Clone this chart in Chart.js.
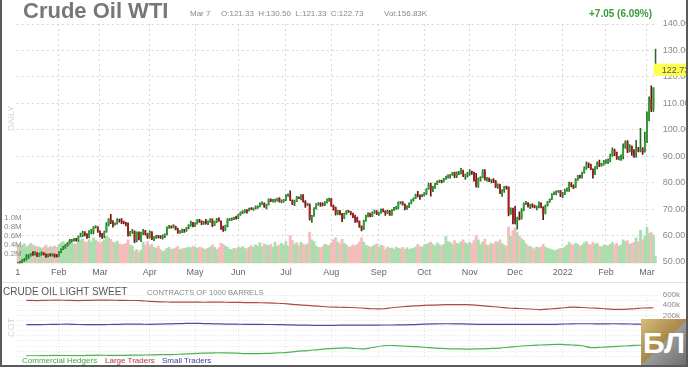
<!DOCTYPE html>
<html><head><meta charset="utf-8">
<script src="https://cdn.jsdelivr.net/npm/chart.js@4/dist/chart.umd.min.js"></script>
<style>
body{margin:0;width:688px;height:367px;overflow:hidden;background:#fff;font-family:Arial,"Liberation Sans",sans-serif;}
#wrap{position:relative;width:688px;height:367px;overflow:hidden;}
canvas{position:absolute;left:0;}
.t{position:absolute;white-space:nowrap;line-height:1;}
#frame{position:absolute;left:0;top:0;width:684px;height:365px;border:2px solid #5a5a5a;border-top:none;pointer-events:none;}
#sep{position:absolute;left:0;top:282px;width:688px;height:1px;background:#e2e2e2;}
#logo{position:absolute;left:641px;top:319px;width:46px;height:47px;background:linear-gradient(135deg,#d6bd7a 0%,#a8894a 48%,#9a9a9a 52%,#6c6c6c 100%);color:#fff;font:bold 30px Arial;text-align:center;line-height:47px;}
</style></head>
<body><div id="wrap">
<canvas id="main" width="688" height="282" style="top:0"></canvas>
<div id="sep"></div>
<canvas id="cot" width="688" height="84" style="top:283px"></canvas>
<div class="t" style="left:23px;top:0;font-size:22px;font-weight:bold;color:#777">Crude Oil WTI</div>
<div class="t" style="left:190px;top:10px;font-size:8px;color:#888">Mar 7</div>
<div class="t" style="left:221px;top:10px;font-size:8px;color:#888">O:121.33&nbsp; H:130.50&nbsp; L:121.33&nbsp; C:122.73</div>
<div class="t" style="left:384px;top:10px;font-size:8px;color:#888">Vol:156.83K</div>
<div class="t" style="left:589px;top:9px;font-size:10px;font-weight:bold;color:#3a9a3a">+7.05 (6.09%)</div>
<div class="t" style="left:7px;top:131px;font-size:9px;color:#d4d4d4;transform:rotate(-90deg);transform-origin:0 0">DAILY</div>
<div class="t" style="left:3px;top:287px;font-size:10px;color:#555">CRUDE OIL LIGHT SWEET</div>
<div class="t" style="left:147px;top:289px;font-size:7.6px;color:#888">CONTRACTS OF 1000 BARRELS</div>
<div class="t" style="left:7px;top:337px;font-size:9px;color:#d4d4d4;transform:rotate(-90deg);transform-origin:0 0">COT</div>
<div class="t" style="left:22px;top:357px;font-size:8px;color:#3aa83a">Commercial Hedgers</div>
<div class="t" style="left:105px;top:357px;font-size:8px;color:#a83a3a">Large Traders</div>
<div class="t" style="left:162px;top:357px;font-size:8px;color:#3a3a9a">Small Traders</div>
<div id="logo">БЛ</div>
<div id="frame"></div>
</div>
<script>
// ---- calendar (categories) ----
const holidays = ['2021-01-18','2021-02-15','2021-04-02','2021-05-31','2021-07-05','2021-09-06','2021-11-25','2021-12-24','2022-01-17','2022-02-21'];
function buildDates(a,b){const out=[];let d=new Date(a+'T00:00:00Z');const e=new Date(b+'T00:00:00Z');
  while(d<=e){const wd=d.getUTCDay();const s=d.toISOString().slice(0,10);if(wd!==0&&wd!==6&&!holidays.includes(s))out.push(s);d=new Date(d.getTime()+864e5);}return out;}
const dates = buildDates('2021-01-04','2022-03-07');
const monthNames = ['Jan','Feb','Mar','Apr','May','Jun','Jul','Aug','Sep','Oct','Nov','Dec'];
const priceTicks = [50,60,70,80,90,100,110,120,130,140];
const volTicks = [200000,400000,600000,800000,1000000];
const cotTicks = [600000,500000,400000,300000,200000,100000,0,-100000,-200000,-300000,-400000,-500000,-600000];

// ---- daily OHLC (one line per month) ----
const opens = [
48.4,47.5,49.9,50.6,50.9,52.1,52.3,53.2,52.9,53.5,52.2,52.9,53.3,53.0,52.3,52.8,52.6,52.8,52.4,
52.2,53.6,54.8,55.6,56.2,56.8,58.0,58.4,58.7,58.2,59.6,60.1,61.1,60.5,59.3,61.7,61.6,63.2,63.2,
61.6,60.7,59.8,61.3,63.9,66.1,65.0,64.0,64.4,66.0,65.6,65.4,64.8,64.7,60.0,61.4,61.6,57.9,61.2,58.6,61.0,61.7,60.6,
59.2,61.5,58.7,59.3,59.8,59.6,59.3,59.7,60.3,63.2,63.4,63.1,63.4,62.4,61.4,61.4,62.1,61.9,62.9,63.9,64.9,
63.7,64.5,65.7,65.6,64.7,65.0,64.9,65.3,66.1,63.8,65.3,66.3,65.5,63.4,62.1,63.6,66.1,66.1,66.2,66.8,
66.8,67.8,68.8,68.8,69.6,69.3,70.1,70.0,70.3,70.9,70.9,72.1,72.1,71.0,71.7,73.7,73.0,73.1,73.3,74.0,72.9,73.0,
73.5,75.2,75.2,73.4,72.2,73.0,74.6,74.1,75.2,73.1,71.7,71.8,66.4,67.4,70.3,71.9,72.1,71.9,71.6,72.4,73.6,
73.9,71.3,70.6,68.1,69.1,68.3,66.5,68.3,69.3,69.1,68.4,67.3,66.6,65.5,63.5,62.3,65.6,67.5,68.4,67.4,68.7,69.2,
68.5,68.6,70.0,69.3,68.4,69.3,67.7,69.7,70.5,70.5,72.6,72.6,71.9,70.3,70.6,72.2,73.3,74.0,75.4,75.3,74.8,
75.0,75.9,77.6,79.0,77.4,78.3,79.4,80.5,80.6,80.4,81.3,82.4,82.4,83.0,83.9,82.5,83.8,83.8,84.6,82.7,82.8,
83.5,84.1,83.9,80.9,78.9,81.3,81.9,84.2,81.4,81.6,80.8,80.9,80.8,78.4,79.0,75.9,76.8,78.5,78.4,68.2,70.0,
66.2,65.5,66.5,66.3,69.5,72.1,72.4,71.0,71.7,71.3,70.7,70.9,72.4,70.9,68.2,71.2,72.8,73.8,75.6,76.0,76.6,77.0,
75.7,76.1,77.0,77.8,79.5,78.9,78.2,81.2,82.6,82.1,83.8,85.4,87.0,86.9,85.1,83.3,85.6,87.4,86.6,86.8,
88.1,88.2,88.3,90.3,92.3,91.3,89.4,89.7,89.9,93.1,95.5,92.1,93.7,91.8,91.1,92.4,92.1,92.8,91.6,
95.7,104.0,111.5,108.0,121.33];
const highs = [
49.8,50.2,50.9,51.3,52.8,52.8,53.3,53.9,53.9,53.6,53.4,53.8,53.6,53.1,53.0,53.2,53.2,53.1,52.9,
53.9,55.0,55.9,56.6,57.3,58.6,58.6,58.9,58.9,59.8,60.9,61.7,61.5,60.7,61.9,62.3,63.4,63.8,63.4,
61.8,60.8,61.7,64.9,66.4,68.0,65.7,64.8,66.4,66.2,66.4,65.5,65.0,64.8,61.6,62.3,61.8,61.4,61.4,61.3,62.3,62.0,60.8,
61.8,61.4,59.6,60.1,60.1,60.0,60.3,60.6,63.3,63.9,63.7,64.1,63.6,62.8,61.9,62.4,62.3,63.1,64.1,65.5,65.0,
64.9,66.0,66.1,65.6,65.4,66.1,65.6,66.4,66.3,65.5,66.5,66.7,65.6,63.6,64.0,66.4,66.4,66.7,67.0,67.4,
68.1,69.0,69.4,69.8,69.8,70.4,70.6,70.5,71.2,71.2,72.4,72.7,72.4,71.9,73.9,73.9,73.7,73.8,74.2,74.4,73.5,73.7,
75.5,75.8,76.9,73.5,73.4,74.8,74.6,75.5,75.5,73.2,72.3,72.0,67.6,70.6,72.1,72.5,72.5,72.4,72.8,73.9,74.2,
74.1,71.5,70.8,69.5,69.5,68.4,68.5,69.5,69.4,69.1,68.5,67.7,67.0,65.6,63.7,65.8,67.7,68.7,68.5,69.0,69.6,69.4,
68.9,70.1,70.1,69.4,69.6,69.5,69.8,70.7,71.0,72.7,72.8,72.8,72.0,71.3,72.4,73.6,74.3,75.7,76.7,75.4,75.6,
76.2,77.8,79.8,79.8,78.6,79.8,80.7,81.0,81.0,81.6,82.5,83.0,83.1,83.9,84.0,84.1,84.3,85.4,84.8,83.2,83.9,
84.9,84.4,84.0,83.5,81.8,82.3,84.9,84.9,82.0,81.8,81.3,81.5,80.9,79.6,79.5,77.4,78.6,78.7,78.4,70.5,70.4,
71.0,67.0,69.0,70.2,72.4,72.9,72.5,71.9,72.0,71.5,71.2,72.7,72.4,70.9,71.5,72.9,73.9,75.9,76.5,76.9,77.0,77.1,
76.3,77.6,78.0,80.2,80.0,79.2,81.5,82.8,82.9,84.0,86.0,87.9,87.5,87.0,85.2,86.1,87.9,88.5,87.3,88.4,
88.7,89.0,90.8,93.2,92.7,91.6,90.0,90.5,94.7,95.8,95.9,94.4,93.9,92.5,96.0,93.4,100.5,93.3,99.1,
106.8,112.5,116.6,116.0,130.5];
const lows = [
47.2,47.3,49.5,50.2,50.7,51.3,52.2,52.5,52.6,52.0,52.1,52.6,52.6,51.7,51.9,52.2,52.2,51.8,51.8,
52.1,53.4,54.7,55.1,56.0,56.8,57.5,57.9,57.9,57.8,59.5,59.6,59.9,58.9,59.1,60.6,60.6,62.8,61.2,
59.5,58.9,59.1,61.2,63.6,64.5,63.2,63.9,64.3,65.1,64.5,64.4,63.6,59.8,59.9,60.8,57.3,57.6,58.3,57.7,60.3,60.1,58.9,
59.0,58.4,58.1,58.9,59.1,58.9,58.6,59.2,60.2,62.7,62.8,62.9,62.1,60.8,60.8,61.1,61.2,61.6,62.5,63.5,63.3,
63.4,64.3,65.0,64.1,64.2,64.3,64.1,65.0,63.4,63.7,64.9,65.3,62.3,61.6,61.8,63.3,65.6,65.7,66.0,66.2,
66.4,67.6,68.3,68.6,68.5,69.2,69.8,69.5,70.0,70.3,70.8,71.7,70.6,70.1,71.5,72.8,72.6,72.6,73.0,72.6,72.3,72.6,
73.2,74.8,73.2,71.7,71.3,72.8,73.9,73.5,72.6,70.6,71.3,65.8,65.0,67.2,70.0,71.4,71.0,71.2,71.3,72.2,72.9,
71.0,69.6,67.7,67.9,67.8,65.2,66.4,68.0,68.7,67.8,66.8,65.0,65.1,63.1,61.7,62.2,65.3,67.0,67.0,67.1,68.4,67.9,
67.6,68.4,68.9,67.6,68.3,67.6,67.6,69.4,69.9,70.1,72.0,71.5,69.7,69.9,70.5,72.0,73.0,73.9,74.6,73.7,74.6,
74.9,75.5,77.4,74.9,76.6,77.8,79.2,80.0,79.9,80.2,81.2,81.7,81.7,82.7,81.9,81.9,83.0,83.3,82.3,81.2,82.1,
82.7,83.1,80.6,78.3,78.2,80.6,81.8,80.9,80.6,80.4,79.9,80.0,78.1,77.8,75.8,74.8,76.3,77.5,67.4,68.0,64.4,
64.4,62.4,65.9,66.2,69.3,71.7,70.7,70.2,70.6,70.4,69.7,70.4,70.4,66.0,68.2,71.1,72.5,73.6,75.5,75.4,76.3,74.7,
74.3,75.5,76.7,76.7,78.4,77.7,78.1,80.8,81.7,81.7,83.6,85.0,85.7,84.9,81.7,83.0,85.2,86.0,86.2,86.6,
87.3,87.2,87.8,89.9,90.2,88.8,88.6,88.4,89.0,92.9,91.3,91.6,90.3,89.5,89.6,91.6,91.6,90.7,91.5,
95.1,103.3,106.8,106.9,121.33];
const closes = [
47.6,49.9,50.6,50.8,52.2,52.3,53.2,52.9,53.6,52.4,53.0,53.3,53.1,52.3,52.8,52.6,52.9,52.3,52.2,
53.6,54.8,55.7,56.2,56.9,58.0,58.4,58.7,58.2,59.5,60.1,61.1,60.5,59.2,61.7,61.7,63.2,63.5,61.5,
60.6,59.8,61.3,63.8,66.1,65.1,64.0,64.4,66.0,65.6,65.4,64.8,64.6,60.0,61.4,61.6,57.8,61.2,58.6,61.0,61.6,60.6,59.2,
61.5,58.7,59.3,59.8,59.6,59.3,59.7,60.2,63.2,63.5,63.1,63.4,62.4,61.4,61.4,62.1,61.9,62.9,63.9,65.0,63.6,
64.5,65.7,65.6,64.7,64.9,64.9,65.3,66.1,63.8,65.4,66.3,65.5,63.4,62.1,63.6,66.1,66.1,66.2,66.9,66.3,
67.7,68.8,68.8,69.6,69.2,70.1,70.0,70.3,70.9,70.9,72.1,72.2,71.0,71.6,73.7,73.1,73.1,73.3,74.1,72.9,73.0,73.5,
75.2,75.2,73.4,72.2,72.9,74.6,74.1,75.3,73.1,71.7,71.8,66.4,67.4,70.3,71.9,72.1,71.9,71.7,72.4,73.6,74.0,
71.3,70.6,68.2,69.1,68.3,66.5,68.3,69.3,69.1,68.4,67.3,66.6,65.5,63.5,62.3,65.6,67.5,68.4,67.4,68.7,69.2,68.5,
68.6,70.0,69.3,68.4,69.3,67.7,69.7,70.5,70.5,72.6,72.6,72.0,70.3,70.6,72.2,73.3,74.0,75.5,75.3,74.8,75.0,
75.9,77.6,78.9,77.4,78.3,79.4,80.5,80.6,80.4,81.3,82.3,82.4,83.0,83.9,82.5,83.8,83.8,84.7,82.7,82.8,83.6,
84.1,83.9,80.9,78.8,81.3,81.9,84.2,81.3,81.6,80.8,80.9,80.8,78.4,79.0,75.9,76.8,78.5,78.4,68.2,70.0,66.2,
65.6,66.5,66.3,69.5,72.1,72.4,70.9,71.7,71.3,70.7,70.9,72.4,70.9,68.2,71.1,72.8,73.8,75.6,76.0,76.6,77.0,75.2,
76.1,77.0,77.9,79.5,78.9,78.2,81.2,82.6,82.1,83.8,85.4,87.0,86.9,85.1,83.3,85.6,87.4,86.6,86.8,88.2,
88.2,88.3,90.3,92.3,91.3,89.4,89.7,89.9,93.1,95.5,92.1,93.7,91.8,91.1,92.4,92.1,92.8,91.6,95.7,
103.4,110.6,107.7,115.7,122.73];
// volume, thousands of contracts
const volumesK = [
420,380,400,430,360,390,440,410,380,370,350,330,360,400,340,370,360,380,350,
420,450,480,430,460,500,440,420,430,470,510,540,480,460,520,470,560,500,480,
450,480,520,600,560,530,470,450,490,430,410,420,440,520,400,380,270,300,250,290,460,400,480,
370,420,350,330,380,300,260,280,330,350,310,320,340,370,300,320,330,340,360,340,380,
350,330,360,340,320,300,330,360,410,350,300,340,440,420,380,350,310,300,330,320,
360,340,370,330,320,350,390,360,410,380,450,370,430,400,390,420,360,470,380,410,440,400,
480,380,610,500,420,450,390,460,420,410,430,690,520,480,380,350,340,370,420,400,390,
450,520,560,470,430,530,440,400,350,370,410,380,420,470,560,460,400,380,360,370,400,430,
350,400,380,300,360,330,340,310,360,330,320,350,310,340,300,320,330,360,420,380,350,
400,420,440,470,420,380,450,410,380,420,590,480,460,420,500,440,430,480,520,450,420,
460,430,500,610,520,420,470,530,400,400,440,420,480,460,520,430,400,380,800,600,720,
780,680,600,540,500,430,380,370,340,320,360,340,360,420,360,330,320,300,280,290,310,330,
330,360,400,460,420,400,440,420,380,400,450,480,420,410,460,420,440,380,360,400,
390,380,420,460,400,440,380,400,520,480,500,420,440,460,560,480,730,520,600,
800,660,680,620,157];

// ---- COT weekly net positions (thousands), Fridays from 2021-01-08 ----
const cotFirstFriday = '2021-01-08';
const cotLargeK = [495,490,495,500,495,490,495,500,500,495,492,490,475,465,462,460,460,458,460,458,455,452,450,445,438,425,410,395,380,365,360,355,345,330,330,350,370,385,398,402,410,413,410,395,378,360,345,335,325,315,325,342,362,355,345,335,320,318,330,345,350];
const cotSmallK = [20,20,22,25,28,22,20,20,22,25,30,28,25,30,35,40,45,40,35,30,28,25,25,22,20,15,10,8,5,5,8,10,10,10,12,12,15,20,30,35,36,35,30,25,24,24,24,24,24,24,24,28,35,36,36,35,36,35,30,25,22];
const cotCommK = [-590,-592,-588,-585,-588,-590,-585,-580,-582,-585,-580,-578,-575,-570,-568,-560,-550,-540,-533,-535,-540,-548,-551,-545,-535,-525,-505,-490,-470,-452,-440,-440,-458,-430,-395,-390,-400,-412,-425,-440,-450,-456,-460,-458,-450,-440,-425,-405,-390,-380,-372,-370,-380,-395,-430,-425,-412,-400,-388,-385,-382];

// ---- derived ----
const n = dates.length;
const up = closes.map((c,i)=>c>=opens[i]);
const monthStart = dates.map((d,i)=> i===0 || d.slice(5,7)!==dates[i-1].slice(5,7));
function tickLabel(i){ if(i===0) return '1'; if(!monthStart[i]) return null; const m=+dates[i].slice(5,7)-1; return m===0? dates[i].slice(0,4) : monthNames[m]; }
function idxOnOrBefore(s){ let k=-1; for(let i=0;i<n;i++){ if(dates[i]<=s) k=i; } return k; }
const cotX = cotLargeK.map((_,k)=>{ const d=new Date(new Date(cotFirstFriday+'T00:00:00Z').getTime()+k*7*864e5); return idxOnOrBefore(d.toISOString().slice(0,10)); });

Chart.defaults.font.family = 'Arial, "Liberation Sans", sans-serif';
Chart.defaults.animation = false;
const GRID = '#d6d6d6';
const UP='#2f9f2f', UPW='#246c24', DN='#a81c1c', DNW='#6a1212';

const overlays = { id:'overlays', afterDraw(chart){
  const ctx=chart.ctx; const r=chart.chartArea.right;
  ctx.save();
  // volume axis labels, placed by the vol scale
  ctx.fillStyle='#888'; ctx.font='8px Arial, "Liberation Sans"'; ctx.textBaseline='middle'; ctx.textAlign='left';
  volTicks.forEach(v=>{ ctx.fillText((v/1e6).toFixed(1)+'M', 4, chart.scales.vol.getPixelForValue(v)); });
  // last price tag
  const v = closes[n-1]; const y = chart.scales.y.getPixelForValue(v);
  ctx.fillStyle='#ffff4d'; ctx.fillRect(r-3, y-6, 688-r+3, 12);
  ctx.fillStyle='#555'; ctx.font='9px Arial, "Liberation Sans"'; ctx.fillText(v.toFixed(2), r+5, y+0.5);
  ctx.restore(); } };

new Chart(document.getElementById('main'), {
  data: { labels: dates, datasets: [
    { type:'bar', data: volumesK.map(v=>v*1000), yAxisID:'vol', backgroundColor: up.map(u=>u?'#addcad':'#f5bcbc'), barPercentage:1, categoryPercentage:1, grouped:false, order:3 },
    { type:'bar', data: lows.map((l,i)=>[l,highs[i]]), yAxisID:'y', backgroundColor: up.map(u=>u?UPW:DNW), barThickness:1, grouped:false, order:2 },
    { type:'bar', data: opens.map((o,i)=>[o,closes[i]]), yAxisID:'y', backgroundColor: up.map(u=>u?UP:DN), barPercentage:0.8, categoryPercentage:1, grouped:false, minBarLength:1, order:1 }
  ]},
  options: { responsive:false, devicePixelRatio:1, events:[], layout:{padding:{top:24,left:16.7,right:0,bottom:0}},
    plugins:{legend:{display:false},tooltip:{enabled:false}},
    scales:{
      x:{ type:'category', offset:true, afterFit:s=>{s.height=18.7;},
          grid:{ offset:false, drawTicks:false, color:(c)=> c.index===0?'rgba(0,0,0,0)':GRID },
          border:{display:false, dash:[2,3]},
          ticks:{ autoSkip:false, maxRotation:0, padding:4, color:'#666', font:{size:9}, callback:(v,i)=>tickLabel(i) } },
      y:{ position:'right', min:49.5, max:140, afterFit:s=>{s.width=31.3;},
          afterBuildTicks:s=>{ s.ticks = priceTicks.map(v=>({value:v})); },
          grid:{ drawTicks:false, color:GRID }, border:{display:false, dash:[2,3]},
          ticks:{ autoSkip:false, padding:6, color:'#888', font:{size:9}, callback:v=>v.toFixed(2) } },
      vol:{ display:false, position:'left', min:0, max:5.28e6 }
    } },
  plugins:[overlays]
});

const cotLine = (arr,color)=>({ data: arr.map((v,k)=>({x:cotX[k], y:v*1000})), borderColor:color, borderWidth:1.2, pointRadius:0, tension:0.35, fill:false });
new Chart(document.getElementById('cot'), {
  type:'line',
  data:{ datasets:[ cotLine(cotLargeK,'#b04848'), cotLine(cotSmallK,'#4a4aa8'), cotLine(cotCommK,'#4cb44c') ] },
  options:{ responsive:false, devicePixelRatio:1, events:[], layout:{padding:{top:12,left:16.7,right:0,bottom:6}},
    plugins:{legend:{display:false},tooltip:{enabled:false}},
    scales:{
      x:{ type:'linear', min:-0.5, max:n-0.5, afterFit:s=>{s.height=0;},
          afterBuildTicks:s=>{ s.ticks = monthStart.map((m,i)=>m&&i>0?{value:i}:null).filter(Boolean); },
          grid:{ drawTicks:false, color:'#e0e0e0' }, border:{display:false, dash:[1,2]}, ticks:{display:false} },
      y:{ position:'right', min:-600000, max:600000, afterFit:s=>{s.width=31.3;},
          afterBuildTicks:s=>{ s.ticks = cotTicks.map(v=>({value:v})); },
          grid:{ drawTicks:false, color:'#e3e3e3' }, border:{display:false, dash:[1,2]},
          ticks:{ autoSkip:false, padding:6, color:'#888', font:{size:8}, callback:v=>(v%200000===0)?(v/1000)+'k':'' } }
    } }
});
</script>
</body></html>
